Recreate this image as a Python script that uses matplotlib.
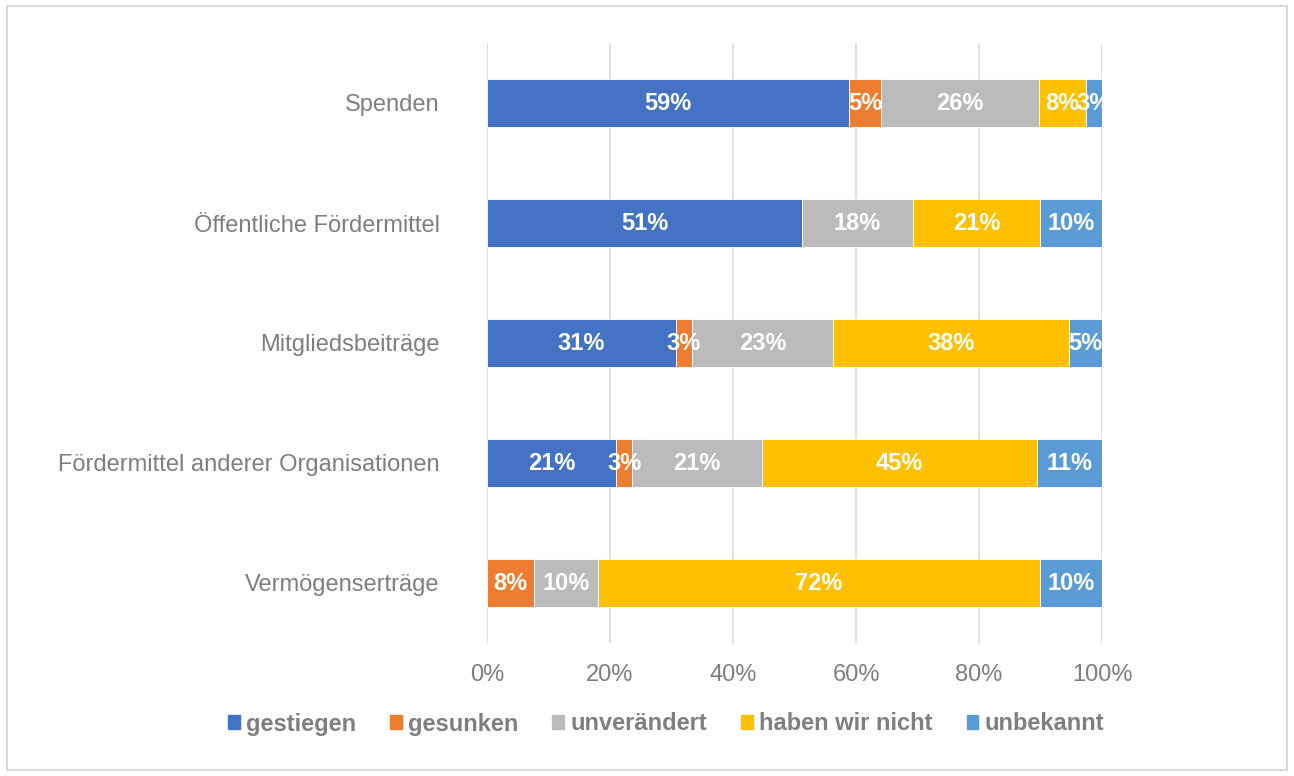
import matplotlib
matplotlib.use("Agg")
import matplotlib.pyplot as plt
import matplotlib.patches as mpatches
import numpy as np

categories = ["Spenden", "Öffentliche Fördermittel", "Mitgliedsbeiträge",
              "Fördermittel anderer Organisationen", "Vermögenserträge"]
series_names = ["gestiegen", "gesunken", "unverändert", "haben wir nicht", "unbekannt"]
gestiegen = [58.9, 51.2, 30.7, 21.0, 0.0]
gesunken = [5.2, 0.0, 2.6, 2.6, 7.6]
unveraendert = [25.7, 18.1, 23.0, 21.1, 10.4]
haben_wir_nicht = [7.6, 20.6, 38.4, 44.7, 71.9]
unbekannt = [2.6, 10.1, 5.3, 10.6, 10.1]
x_ticks = [0, 20, 40, 60, 80, 100]
x_tick_labels = ["0%", "20%", "40%", "60%", "80%", "100%"]

colors = ["#4472C4", "#ED7D31", "#BBBBBB", "#FFC000", "#5B9BD5"]
series = [gestiegen, gesunken, unveraendert, haben_wir_nicht, unbekannt]

plt.rcParams['font.family'] = ['Liberation Sans', 'DejaVu Sans']
txt_gray = "#7F7F7F"

fig = plt.figure(figsize=(12.94, 7.76), dpi=100)
ax = fig.add_axes([487/1294, 1-643/776, (1102-487)/1294, 600/776])

y = np.arange(len(categories))
left = np.zeros(len(categories))
for name, vals, col in zip(series_names, series, colors):
    vals = np.array(vals, dtype=float)
    ax.barh(y, vals, left=left, height=0.4, color=col, label=name,
            edgecolor="white", linewidth=0.6, zorder=3)
    for yi, l, v in zip(y, left, vals):
        if v > 0:
            ax.text(l + v/2, yi, f"{round(v):d}%", ha="center", va="center",
                    color="white", fontsize=17, fontweight="bold", zorder=4)
    left += vals

ax.set_xlim(0, 100)
ax.set_ylim(len(categories) - 0.5, -0.5)
ax.set_yticks(y)
ax.set_yticklabels(categories)
ax.set_xticks(x_ticks)
ax.set_xticklabels(x_tick_labels)
ax.tick_params(axis="both", length=0, labelsize=17, labelcolor=txt_gray)
ax.tick_params(axis="x", pad=15)
ax.tick_params(axis="y", pad=34)
for s in ax.spines.values():
    s.set_visible(False)
ax.grid(axis="x", color="#D9D9D9", linewidth=1.1, zorder=0)
ax.set_axisbelow(True)

handles = [mpatches.Patch(color=c, label=n) for n, c in zip(series_names, colors)]
leg = fig.legend(handles=handles, loc="center", bbox_to_anchor=(666/1294, 1-724/776),
                 ncol=5, frameon=False, handlelength=0.5, handleheight=0.5,
                 handletextpad=0.25, columnspacing=1.45,
                 prop={"size": 17, "weight": "bold"})
for t in leg.get_texts():
    t.set_color(txt_gray)

border = mpatches.Rectangle((7/1294, 6/776), 1280/1294, 764/776, transform=fig.transFigure,
                            fill=False, edgecolor="#D9D9D9", linewidth=1.5)
fig.patches.append(border)

fig.savefig("out.png", dpi=100, facecolor="white")
